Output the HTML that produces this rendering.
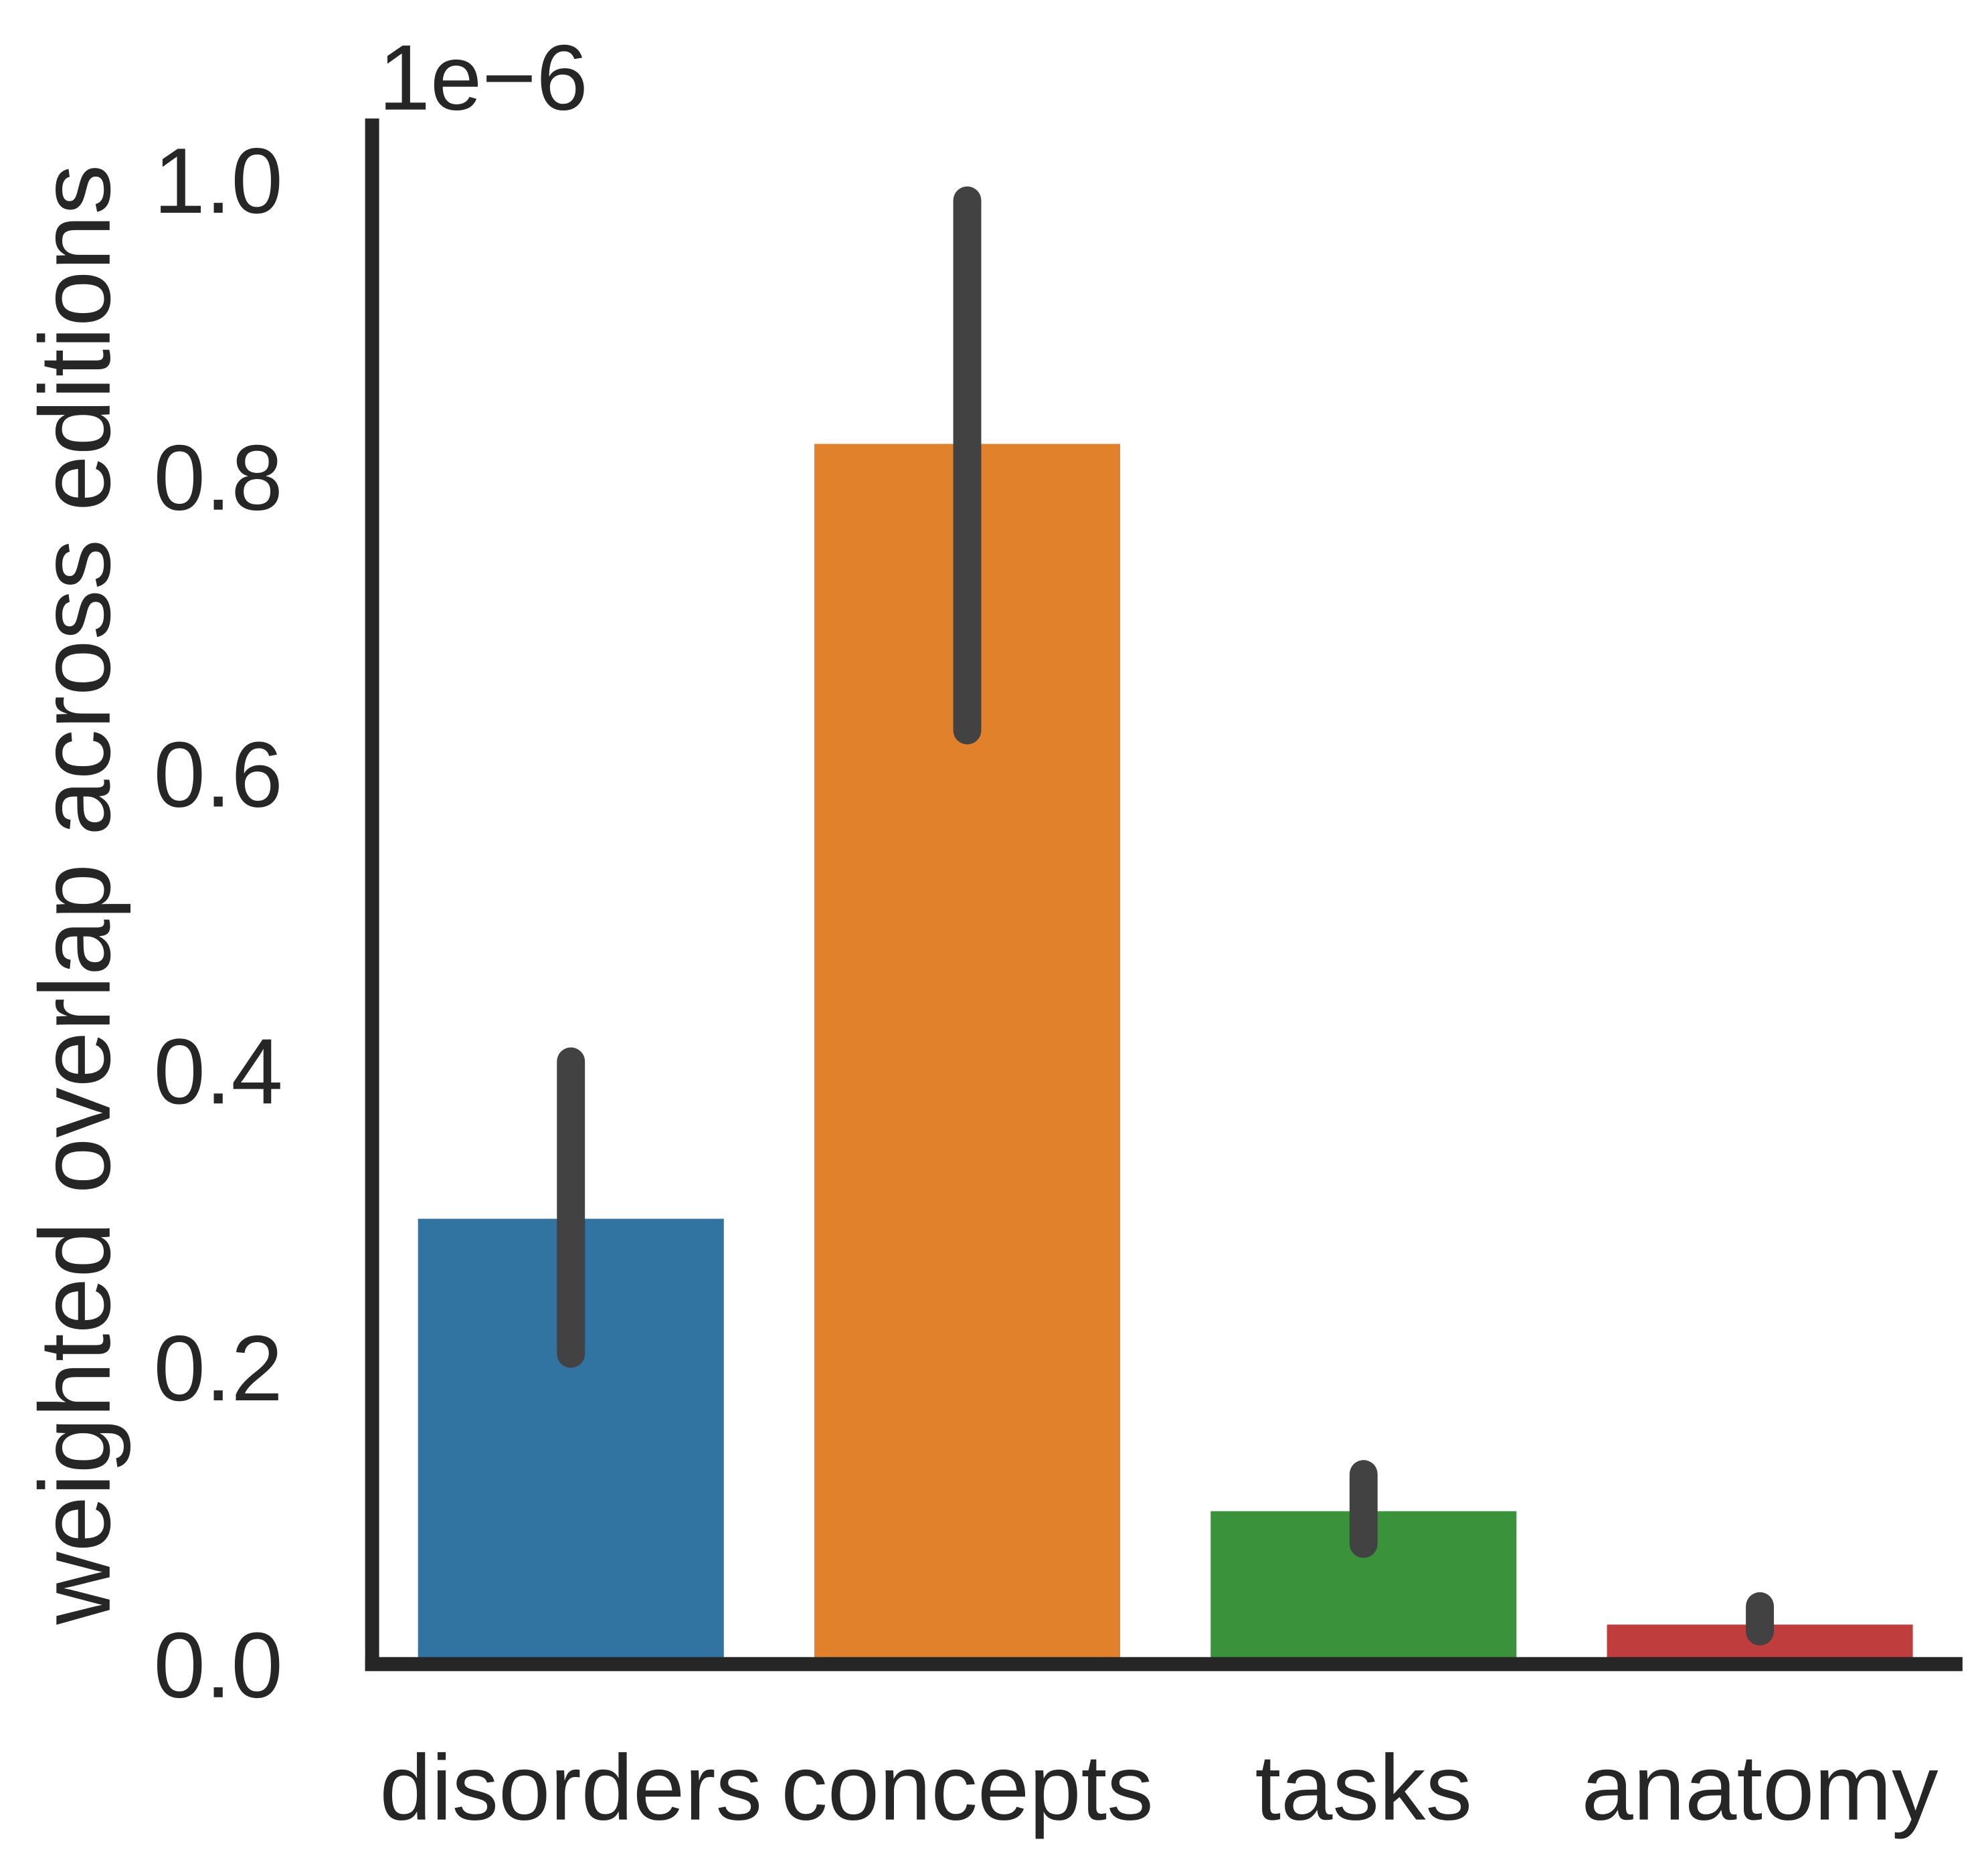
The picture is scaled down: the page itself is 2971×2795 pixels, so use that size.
<!DOCTYPE html>
<html><head><meta charset="utf-8"><style>
html,body{margin:0;padding:0;background:#fff;}
svg{display:block;font-family:"Liberation Sans",Arial,sans-serif;}
</style></head><body>
<svg id="chart" width="2971" height="2795" viewBox="0 0 1560 1467.6" xmlns="http://www.w3.org/2000/svg">
<g id="bars"></g>
<g id="errs"></g>
<g id="yticks"></g>
<g id="xticks"></g>
<line x1="292" y1="93" x2="292" y2="1311" stroke="#262626" stroke-width="11"/>
<line x1="286.5" y1="1306" x2="1540" y2="1306" stroke="#262626" stroke-width="11"/>
<text x="297" y="86" font-size="73" fill="#262626">1e−6</text>
<text transform="translate(86,702) rotate(-90)" text-anchor="middle" font-size="79" fill="#262626">weighted overlap across editions</text>
</svg>
<script>
const categories = ["disorders","concepts","tasks","anatomy"];
const values = [0.30, 0.822, 0.103, 0.0266];
const ciLow = [0.209, 0.629, 0.081, 0.022];
const ciHigh = [0.406, 0.986, 0.128, 0.039];
const colors = ["#3274a1","#e1812c","#3a923a","#c03d3e"];
const yTicks = [0.0, 0.2, 0.4, 0.6, 0.8, 1.0];
const yTickLabels = ["0.0","0.2","0.4","0.6","0.8","1.0"];

const NS = "http://www.w3.org/2000/svg";
function yScale(v){ return 1306 - v * 1165; }
function xScale(i){ return 448 + i * 311; }
const barW = 240;

const gb = document.getElementById('bars');
const ge = document.getElementById('errs');
const gx = document.getElementById('xticks');
const gy = document.getElementById('yticks');
categories.forEach((c, i) => {
  const r = document.createElementNS(NS, 'rect');
  
  
  r.setAttribute('x', xScale(i) - barW / 2);
  r.setAttribute('y', yScale(values[i]));
  r.setAttribute('width', barW);
  r.setAttribute('height', yScale(0) - yScale(values[i]));
  r.setAttribute('fill', colors[i]);
  gb.appendChild(r);

  const l = document.createElementNS(NS, 'line');
  
  
  l.setAttribute('x1', xScale(i));
  l.setAttribute('x2', xScale(i));
  l.setAttribute('y1', yScale(ciLow[i]));
  l.setAttribute('y2', yScale(ciHigh[i]));
  l.setAttribute('stroke', '#424242');
  l.setAttribute('stroke-width', '22');
  l.setAttribute('stroke-linecap', 'round');
  ge.appendChild(l);

  const t = document.createElementNS(NS, 'text');
  
  
  t.setAttribute('x', xScale(i));
  t.setAttribute('y', 1428);
  t.setAttribute('text-anchor', 'middle');
  t.setAttribute('font-size', '73');
  t.setAttribute('fill', '#262626');
  t.textContent = c;
  gx.appendChild(t);
});
yTicks.forEach((v, i) => {
  const t = document.createElementNS(NS, 'text');
  
  
  t.setAttribute('x', 222);
  t.setAttribute('y', yScale(v) + 26);
  t.setAttribute('text-anchor', 'end');
  t.setAttribute('font-size', '73');
  t.setAttribute('fill', '#262626');
  t.textContent = yTickLabels[i];
  gy.appendChild(t);
});
</script>
</body></html>
